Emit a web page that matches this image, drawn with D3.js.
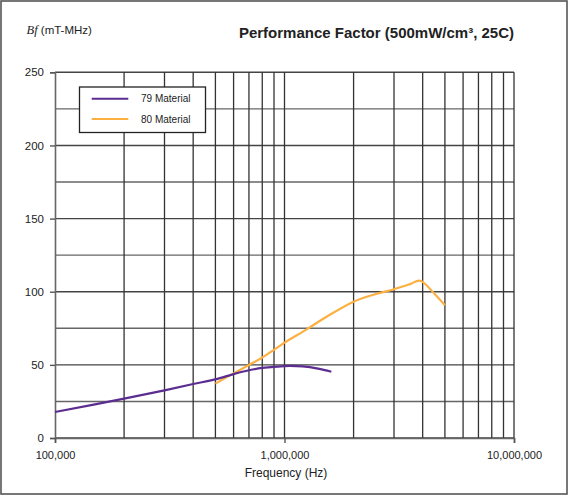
<!DOCTYPE html>
<html>
<head>
<meta charset="utf-8">
<script src="https://cdn.jsdelivr.net/npm/d3@7"></script>
<style>
  html, body { margin: 0; padding: 0; background: #fff; }
  svg { display: block; }
  text { font-family: "Liberation Sans", Arial, sans-serif; fill: #222; }
</style>
</head>
<body>
<svg id="chart" width="568" height="495"></svg>
<script>
// ---- data ----
const seriesNames = ["79 Material", "80 Material"];
const seriesColors = ["#5c2d91", "#fbb040"];
const freq79 = [100000, 200000, 300000, 400000, 500000, 600000, 700000, 800000, 1000000, 1200000, 1400000, 1600000];
const bf79   = [17.8, 26.9, 32.6, 36.9, 40.1, 43.7, 46.3, 47.9, 49.2, 48.9, 47.4, 45.3];
const freq80 = [500000, 600000, 700000, 800000, 900000, 1000000, 1250000, 1500000, 2000000, 2500000, 3000000, 3500000, 3900000, 4500000, 5000000];
const bf80   = [37.2, 44.2, 49.9, 55.0, 60.3, 65.2, 74.3, 82.2, 93.2, 98.4, 101.7, 105.0, 107.5, 98.6, 90.7];
const yTicks = [0, 50, 100, 150, 200, 250];
const yGrid  = [0, 25, 50, 75, 100, 125, 150, 175, 200, 225, 250];
const xTicks = [100000, 1000000, 10000000];
const xGrid  = [200000, 300000, 400000, 500000, 600000, 700000, 800000, 900000, 1000000,
                2000000, 3000000, 4000000, 5000000, 6000000, 7000000, 8000000, 9000000, 10000000];

const svg = d3.select("#chart");
const W = 568, H = 495;

// outer frame
svg.append("rect").attr("x", 1).attr("y", 1).attr("width", W - 2).attr("height", H - 2)
  .attr("fill", "#fff").attr("stroke", "#555").attr("stroke-width", 1.6);

const x = d3.scaleLog().domain([1e5, 1e7]).range([55, 514]);
const y = d3.scaleLinear().domain([0, 250]).range([438, 72.3]);

const gridColor = "#333";
svg.append("rect").attr("x", x(1e5)).attr("y", y(250))
  .attr("width", x(1e7) - x(1e5)).attr("height", y(0) - y(250)).attr("fill", "#fff");

// horizontal grid
svg.append("g").selectAll("line").data(yGrid).join("line")
  .attr("x1", x(1e5)).attr("x2", x(1e7))
  .attr("y1", d => y(d)).attr("y2", d => y(d))
  .attr("stroke", d => d % 50 === 0 ? "#444" : "#666").attr("stroke-width", 1.4);

// vertical grid
svg.append("g").selectAll("line").data(xGrid).join("line")
  .attr("x1", d => x(d)).attr("x2", d => x(d))
  .attr("y1", y(250)).attr("y2", y(0))
  .attr("stroke", gridColor).attr("stroke-width", 1.3);

// y axis
const yAxis = d3.axisLeft(y).tickValues(yTicks).tickSize(5).tickPadding(6).tickFormat(d3.format("d"));
const gy = svg.append("g").attr("transform", `translate(${x(1e5)},0)`).call(yAxis);
gy.select(".domain").attr("stroke", "#666").attr("stroke-width", 1.6);
gy.selectAll(".tick line").attr("stroke", "#555").attr("stroke-width", 1.4);
gy.selectAll(".tick text").attr("font-size", 11.5).attr("font-family", "Liberation Sans, Arial, sans-serif").attr("fill", "#222");

// x axis
const xAxis = d3.axisBottom(x).tickValues(xTicks).tickSize(5).tickPadding(8).tickFormat(d3.format(","));
const gx = svg.append("g").attr("transform", `translate(0,${y(0)})`).call(xAxis);
gx.select(".domain").attr("stroke", "#666").attr("stroke-width", 1.6);
gx.selectAll(".tick line").attr("stroke", "#555").attr("stroke-width", 1.4);
gx.selectAll(".tick text").attr("font-size", 11).attr("font-family", "Liberation Sans, Arial, sans-serif").attr("fill", "#333");

// lines
const line = d3.line().x(d => x(d[0])).y(d => y(d[1])).curve(d3.curveCatmullRom.alpha(0.5));
const s79 = freq79.map((f, i) => [f, bf79[i]]);
const s80 = freq80.map((f, i) => [f, bf80[i]]);
svg.append("path").attr("d", line(s80)).attr("fill", "none")
  .attr("stroke", seriesColors[1]).attr("stroke-width", 2.2);
svg.append("path").attr("d", line(s79)).attr("fill", "none")
  .attr("stroke", seriesColors[0]).attr("stroke-width", 2.2);

// legend
const lg = svg.append("g");
lg.append("rect").attr("x", 79.5).attr("y", 87).attr("width", 126).attr("height", 45.5)
  .attr("fill", "#fff").attr("stroke", "#222").attr("stroke-width", 1.3);
seriesNames.forEach((n, i) => {
  const ly = 98.7 + i * 20.3;
  lg.append("line").attr("x1", 91.7).attr("x2", 128.3).attr("y1", ly).attr("y2", ly)
    .attr("stroke", seriesColors[i]).attr("stroke-width", 2);
  lg.append("text").attr("x", 141).attr("y", ly + 3.5).attr("font-size", 10).attr("fill", "#333").text(n);
});

// title
svg.append("text").attr("x", 514).attr("y", 38).attr("text-anchor", "end")
  .attr("font-size", 15).attr("font-weight", "bold").attr("fill", "#222")
  .text("Performance Factor (500mW/cm³, 25C)");

// y label
const yl = svg.append("text").attr("x", 26.5).attr("y", 34).attr("font-size", 11.5).attr("fill", "#333");
yl.append("tspan").attr("font-family", "Liberation Serif, Times New Roman, serif").attr("font-style", "italic").attr("font-size", 12.5).text("Bf");
yl.append("tspan").text(" (mT-MHz)");

// x label
svg.append("text").attr("x", 286).attr("y", 477).attr("text-anchor", "middle")
  .attr("font-size", 12).attr("fill", "#222").text("Frequency (Hz)");
</script>
</body>
</html>
